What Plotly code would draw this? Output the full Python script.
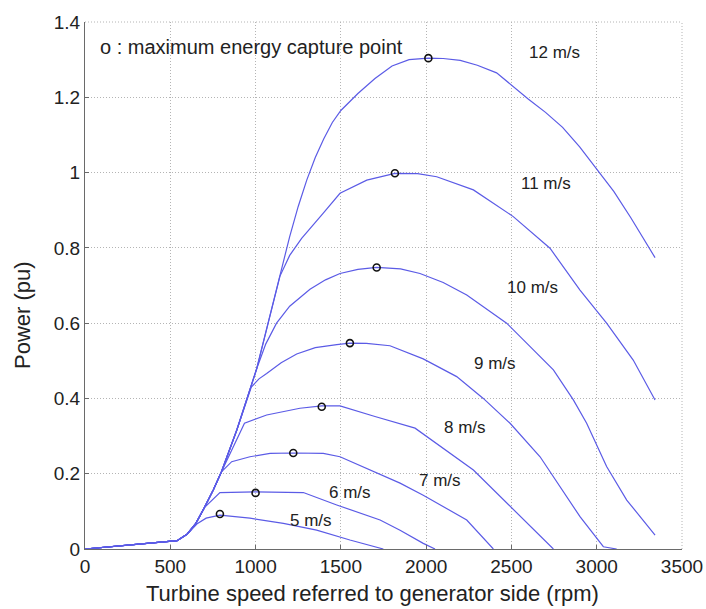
import plotly.graph_objects as go

# ---- data ----
speed_5 = [0, 540, 600, 620, 660, 710, 791, 967, 1163, 1358, 1553, 1749]
power_5 = [0, 0.022, 0.04, 0.05, 0.068, 0.082, 0.09, 0.082, 0.068, 0.05, 0.024, 0]

speed_6 = [0, 540, 600, 650, 700, 791, 997, 1280, 1476, 1730, 1847, 1983, 2052]
power_6 = [0, 0.022, 0.04, 0.068, 0.11, 0.15, 0.152, 0.15, 0.117, 0.077, 0.05, 0.015, 0]

speed_7 = [0, 540, 600, 650, 700, 752, 800, 860, 967, 1085, 1221, 1397, 1495, 1730, 1847, 1983, 2238, 2394]
power_7 = [0, 0.022, 0.04, 0.068, 0.11, 0.157, 0.205, 0.232, 0.245, 0.254, 0.255, 0.254, 0.245, 0.197, 0.175, 0.143, 0.077, 0]

speed_8 = [0, 540, 600, 650, 700, 752, 800, 935, 1065, 1260, 1388, 1495, 1700, 1935, 2277, 2511, 2746]
power_8 = [0, 0.022, 0.04, 0.068, 0.11, 0.157, 0.205, 0.334, 0.356, 0.374, 0.38, 0.38, 0.352, 0.321, 0.21, 0.104, 0]

speed_9 = [0, 540, 600, 650, 700, 752, 800, 890, 975, 1020, 1065, 1150, 1241, 1350, 1476, 1553, 1650, 1788, 1983, 2179, 2335, 2492, 2668, 2785, 2902, 3039, 3117]
power_9 = [0, 0.022, 0.04, 0.068, 0.11, 0.157, 0.205, 0.316, 0.43, 0.452, 0.466, 0.495, 0.518, 0.535, 0.543, 0.547, 0.546, 0.54, 0.505, 0.458, 0.40, 0.334, 0.245, 0.166, 0.086, 0.006, 0]

speed_10 = [0, 540, 600, 650, 700, 752, 800, 890, 1006, 1060, 1123, 1200, 1319, 1410, 1495, 1600, 1710, 1850, 1964, 2100, 2238, 2472, 2746, 2863, 2941, 3058, 3176, 3342]
power_10 = [0, 0.022, 0.04, 0.068, 0.11, 0.157, 0.205, 0.316, 0.478, 0.545, 0.6, 0.645, 0.69, 0.715, 0.732, 0.743, 0.748, 0.744, 0.732, 0.708, 0.675, 0.60, 0.476, 0.396, 0.334, 0.219, 0.13, 0.037]

speed_11 = [0, 540, 600, 650, 700, 752, 800, 890, 1006, 1100, 1143, 1200, 1270, 1397, 1495, 1652, 1817, 1950, 2062, 2277, 2374, 2511, 2726, 2902, 3058, 3214, 3342]
power_11 = [0, 0.022, 0.04, 0.068, 0.11, 0.157, 0.205, 0.316, 0.478, 0.652, 0.725, 0.78, 0.825, 0.892, 0.945, 0.98, 0.998, 0.997, 0.989, 0.954, 0.925, 0.883, 0.799, 0.688, 0.60, 0.502, 0.396]

speed_12 = [0, 540, 600, 650, 700, 752, 800, 890, 1006, 1100, 1150, 1200, 1250, 1300, 1350, 1400, 1450, 1500, 1600, 1700, 1800, 1900, 2013, 2100, 2200, 2300, 2413, 2500, 2600, 2700, 2800, 2900, 3000, 3100, 3200, 3342]
power_12 = [0, 0.022, 0.04, 0.068, 0.11, 0.157, 0.205, 0.316, 0.478, 0.652, 0.74, 0.83, 0.91, 0.98, 1.04, 1.09, 1.133, 1.165, 1.21, 1.25, 1.283, 1.30, 1.304, 1.303, 1.298, 1.285, 1.265, 1.232, 1.195, 1.16, 1.12, 1.068, 1.01, 0.95, 0.88, 0.774]

curves = [
    (speed_5, power_5), (speed_6, power_6), (speed_7, power_7), (speed_8, power_8),
    (speed_9, power_9), (speed_10, power_10), (speed_11, power_11), (speed_12, power_12),
]

mpp_speed = [791, 1000, 1221, 1388, 1553, 1710, 1817, 2013]
mpp_power = [0.093, 0.149, 0.255, 0.378, 0.547, 0.748, 0.998, 1.304]

label_text = ["5 m/s", "6 m/s", "7 m/s", "8 m/s", "9 m/s", "10 m/s", "11 m/s", "12 m/s"]
label_x = [1325, 1554, 2081, 2228, 2404, 2621, 2703, 2750]
label_y = [0.077, 0.151, 0.183, 0.324, 0.494, 0.696, 0.97, 1.32]

FONT = "Liberation Sans, Arial, Helvetica, sans-serif"
LINE_COLOR = "#5b5be6"
GRID_COLOR = "#b4b4b4"
GRID_DASH = "1px,2px"

fig = go.Figure()
for sp, pw in curves:
    fig.add_trace(go.Scatter(x=sp, y=pw, mode="lines",
                             line=dict(color=LINE_COLOR, width=1.2),
                             showlegend=False, hoverinfo="skip"))

fig.add_trace(go.Scatter(x=mpp_speed, y=mpp_power, mode="markers",
                         marker=dict(symbol="circle-open", size=7, color="#111111",
                                     line=dict(width=1.6, color="#111111")),
                         showlegend=False))

for t, lx, ly in zip(label_text, label_x, label_y):
    fig.add_annotation(x=lx, y=ly, text=t, showarrow=False,
                       font=dict(family=FONT, size=17, color="#222222"),
                       xanchor="center", yanchor="middle")

fig.add_annotation(x=74, y=1.334, text="o : maximum energy capture point", showarrow=False,
                   font=dict(family=FONT, size=20, color="#222222"),
                   xanchor="left", yanchor="middle")

# axis titles
fig.add_annotation(xref="paper", yref="paper", x=0.4824, y=-0.084,
                   text="Turbine speed referred to generator side (rpm)", showarrow=False,
                   font=dict(family=FONT, size=22, color="#222222"),
                   xanchor="center", yanchor="middle")
fig.add_annotation(xref="paper", yref="paper", x=-0.1055, y=0.444,
                   text="Power (pu)", showarrow=False, textangle=-90,
                   font=dict(family=FONT, size=22, color="#222222"),
                   xanchor="center", yanchor="middle")

axis_common = dict(
    showgrid=True, gridcolor=GRID_COLOR, griddash=GRID_DASH, gridwidth=1,
    showline=True, linecolor="#6a6a6a", linewidth=1.2,
    ticks="inside", ticklen=4, tickcolor="#6a6a6a",
    zeroline=False, mirror=False, automargin=False,
    tickfont=dict(family=FONT, size=19, color="#222222"),
)

fig.update_xaxes(range=[0, 3500], dtick=500, tick0=0, **axis_common)
fig.update_yaxes(range=[0, 1.4], dtick=0.2, tick0=0, **axis_common)

# dotted top and right edges (MATLAB grid)
fig.add_shape(type="line", xref="paper", yref="paper", x0=0, x1=1, y0=1, y1=1,
              line=dict(color=GRID_COLOR, width=1, dash=GRID_DASH), layer="below")
fig.add_shape(type="line", xref="paper", yref="paper", x0=1, x1=1, y0=0, y1=1,
              line=dict(color=GRID_COLOR, width=1, dash=GRID_DASH), layer="below")

fig.update_layout(
    width=706, height=609,
    margin=dict(l=85, r=24, t=22, b=60, autoexpand=False),
    paper_bgcolor="white", plot_bgcolor="white",
    font=dict(family=FONT, color="#222222"),
)

fig.write_html("out.html")
